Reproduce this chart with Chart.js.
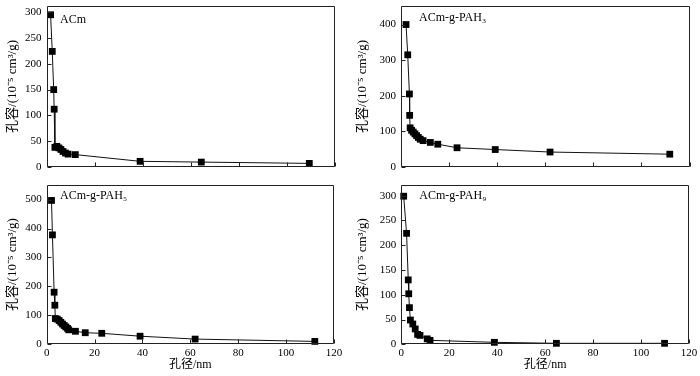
<!DOCTYPE html>
<html>
<head>
<meta charset="utf-8">
<script src="https://cdn.jsdelivr.net/npm/chart.js@4/dist/chart.umd.min.js"></script>
<style>
  html, body { margin: 0; padding: 0; background: #fff; }
  #wrap { position: relative; width: 700px; height: 376px; }
  canvas { position: absolute; }
</style>
</head>
<body>
<div id="wrap">
  <canvas id="c1" width="350" height="180" style="left:0;top:0"></canvas>
  <canvas id="c2" width="350" height="180" style="left:350px;top:0"></canvas>
  <canvas id="c3" width="350" height="196" style="left:0;top:180px"></canvas>
  <canvas id="c4" width="350" height="196" style="left:350px;top:180px"></canvas>
</div>
<script>
// ---- data (pore diameter in nm, pore volume in 10^-5 cm3/g) ----
const acmX  = [1.7, 2.4, 3.0, 3.2, 3.5, 4.3, 5.2, 6.0, 6.9, 7.9, 9.0, 12.0, 39.0, 64.5, 109.5];
const acmY  = [295, 224, 150, 112, 38, 40, 37, 34, 30, 27, 25, 24, 11, 9.5, 7];

const pah3X = [2.1, 2.8, 3.5, 3.6, 3.8, 4.4, 5.1, 5.8, 6.5, 7.2, 8.0, 9.2, 12.2, 15.3, 23.3, 39.2, 62.0, 111.8];
const pah3Y = [400, 315, 205, 145, 110, 103, 98, 93, 88, 83, 78, 74, 69, 64, 54, 49, 42, 36];

const pah5X = [2.0, 2.4, 3.1, 3.4, 3.6, 4.4, 5.2, 5.9, 6.6, 7.3, 8.0, 8.7, 9.2, 12.0, 16.1, 23.0, 39.0, 62.0, 112.0];
const pah5Y = [497, 378, 180, 135, 89, 87, 82, 76, 70, 65, 60, 55, 50, 45, 40, 38, 28, 18, 10];

const pah9X = [1.0, 2.2, 2.9, 3.1, 3.4, 3.8, 4.8, 5.8, 6.8, 7.8, 10.8, 12.0, 38.8, 64.7, 109.8];
const pah9Y = [299, 224, 130, 102, 74, 49, 41, 31, 20, 18, 11, 8, 4, 2, 2];

const panelLabels = ['ACm', 'ACm-g-PAH\u2083', 'ACm-g-PAH\u2085', 'ACm-g-PAH\u2089'];
const yTitle = '孔容/(10\u207B\u2075 cm\u00B3/g)';
const xTitle = '孔径/nm';

const SERIF = '"Liberation Serif", "Times New Roman", "Noto Sans CJK SC", serif';

function pts(xs, ys) { return xs.map((x, i) => ({x: x, y: ys[i]})); }

const framePlugin = {
  id: 'frame',
  afterDraw(chart, args, opts) {
    const {ctx, chartArea: a, scales} = chart;
    const x = scales.x, y = scales.y;
    ctx.save();
    ctx.strokeStyle = '#222';
    ctx.lineWidth = 1;
    ctx.beginPath();
    const L = Math.round(a.left) + 0.5, R = Math.round(a.right) - 0.5;
    const T = Math.round(a.top) + 0.5, B = Math.round(a.bottom) - 0.5;
    ctx.rect(L, T, R - L, B - T);
    x.ticks.forEach(t => {
      const px = Math.round(x.getPixelForValue(t.value)) + 0.5;
      ctx.moveTo(px, B); ctx.lineTo(px, B - 4);
    });
    y.ticks.forEach(t => {
      const py = Math.round(y.getPixelForValue(t.value)) + 0.5;
      ctx.moveTo(L, py); ctx.lineTo(L + 4, py);
    });
    ctx.stroke();
    ctx.fillStyle = '#000';
    ctx.font = '12px ' + SERIF;
    ctx.textBaseline = 'middle';
    ctx.textAlign = 'left';
    ctx.fillText(opts.text, a.left + opts.dx, a.top + opts.dy);
    ctx.restore();
  }
};

function makeChart(id, xs, ys, cfg) {
  const fixX = (s) => { s.height = cfg.xh; s.paddingLeft = 0; s.paddingRight = 0; s.paddingTop = 0; s.paddingBottom = 0; };
  const fixY = (s) => { s.width = cfg.yw; s.paddingLeft = 0; s.paddingRight = 0; s.paddingTop = 0; s.paddingBottom = 0; };
  return new Chart(document.getElementById(id), {
    type: 'scatter',
    data: {
      datasets: [{
        data: pts(xs, ys),
        showLine: true,
        borderColor: '#111',
        borderWidth: 1,
        backgroundColor: '#000',
        pointBackgroundColor: '#000',
        pointBorderColor: '#000',
        pointBorderWidth: 0,
        pointStyle: 'rect',
        pointRadius: 4.8,
        pointHoverRadius: 4.8,
        tension: 0,
        clip: false
      }]
    },
    plugins: [framePlugin],
    options: {
      responsive: false,
      animation: false,
      devicePixelRatio: 1,
      layout: { padding: { left: 0, top: cfg.pt, right: cfg.pr, bottom: 0 } },
      plugins: {
        legend: { display: false },
        tooltip: { enabled: false },
        frame: { text: cfg.label, dx: cfg.dx, dy: cfg.dy }
      },
      scales: {
        x: {
          type: 'linear', min: 0, max: 120,
          grid: { display: false, drawTicks: false },
          border: { display: false },
          ticks: { display: cfg.xLabels, stepSize: 20, padding: 2, color: '#000',
                   font: { family: SERIF, size: 11 } },
          title: { display: cfg.xLabels, text: xTitle, color: '#000',
                   font: { family: SERIF, size: 12 }, padding: { top: 0, bottom: 4.4 } },
          afterFit: fixX
        },
        y: {
          type: 'linear', min: 0, max: cfg.ymax,
          grid: { display: false, drawTicks: false },
          border: { display: false },
          ticks: { stepSize: cfg.step, includeBounds: false, padding: 5, color: '#000',
                   font: { family: SERIF, size: 11 } },
          title: { display: true, text: yTitle, color: '#000',
                   font: { family: SERIF, size: 13 }, padding: { top: 5, bottom: 0 } },
          afterFit: fixY
        }
      }
    }
  });
}

makeChart('c1', acmX, acmY,   { ymax: 312, step: 50,  yw: 46.5, xh: 13,   pt: 6,   pr: 15.5, xLabels: false, label: panelLabels[0], dx: 13.5, dy: 13.5 });
makeChart('c2', pah3X, pah3Y, { ymax: 452, step: 100, yw: 51,   xh: 13,   pt: 6,   pr: 10.5, xLabels: false, label: panelLabels[1], dx: 18,   dy: 12 });
makeChart('c3', pah5X, pah5Y, { ymax: 551, step: 100, yw: 46.7, xh: 31.7, pt: 3,   pr: 16,   xLabels: true,  label: panelLabels[2], dx: 13.3, dy: 11 });
makeChart('c4', pah9X, pah9Y, { ymax: 322, step: 50,  yw: 51.3, xh: 31.7, pt: 2.5, pr: 11,   xLabels: true,  label: panelLabels[3], dx: 18,   dy: 11.5 });
</script>
</body>
</html>
